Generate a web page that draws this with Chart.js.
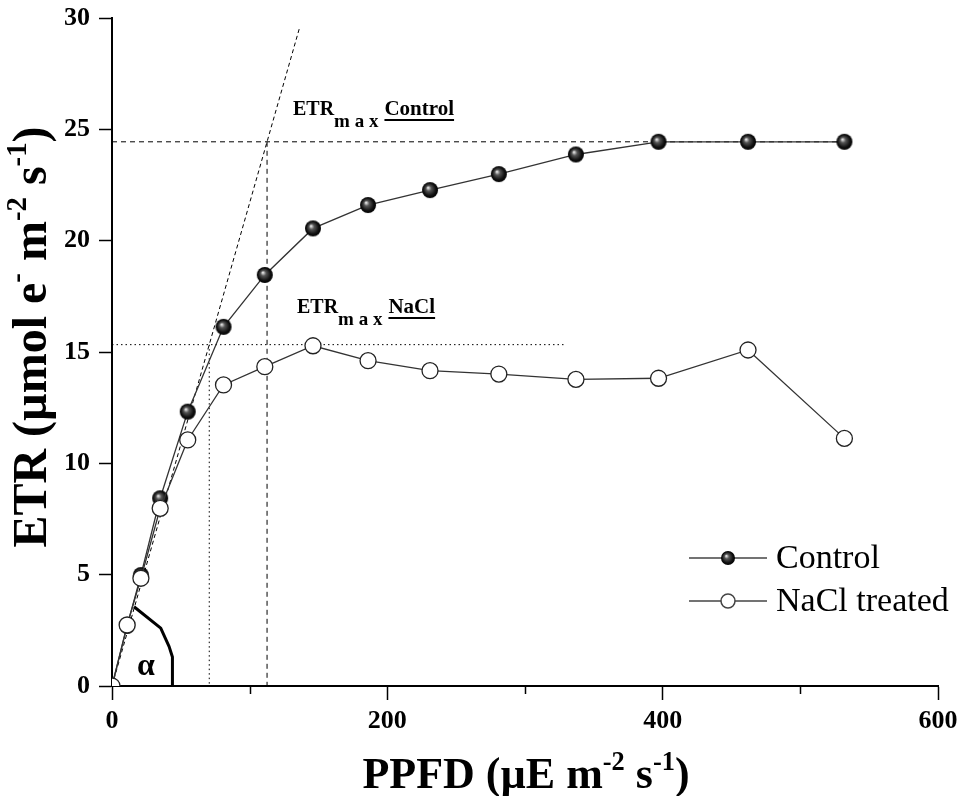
<!DOCTYPE html>
<html>
<head>
<meta charset="utf-8">
<title>ETR light curve</title>
<script src="https://cdn.jsdelivr.net/npm/chart.js@4.4.1/dist/chart.umd.min.js"></script>
<style>
  html, body { margin: 0; padding: 0; background: #fff; }
  #wrap { width: 967px; height: 796px; }
</style>
</head>
<body>
<div id="wrap"><canvas id="etrChart" width="967" height="796"></canvas></div>
<script>
// light steps (PPFD) and electron transport rates
const ppfd = [0, 11, 21, 35, 55, 81, 111, 146, 186, 231, 281, 337, 397, 462, 532];
const etrControl = [0, 2.7, 4.98, 8.43, 12.32, 16.13, 18.46, 20.55, 21.6, 22.27, 22.99, 23.87, 24.44, 24.44, 24.44];
const etrNaCl = [0, 2.74, 4.84, 7.98, 11.05, 13.52, 14.34, 15.28, 14.61, 14.16, 14.01, 13.77, 13.82, 15.09, 11.12];
const seriesNames = ["Control", "NaCl treated"];

const xMajor = [0, 200, 400, 600];
const xMinor = [100, 300, 500];
const yTicks = [0, 5, 10, 15, 20, 25, 30];

// initial slope and the two plateaus
const alphaSlope = 0.217;
const etrMaxControl = 24.44;
const etrMaxNaCl = 15.33;
const slopeTop = 29.6;
const naclLineEnd = 330;
// arc marking the angle alpha (PPFD, ETR)
const alphaArc = [[16, 3.56], [35.4, 2.6], [41.5, 1.77], [43.9, 1.3], [43.9, 0]];

const SERIF = "'Liberation Serif', 'Times New Roman', serif";

function makeBall(r) {
  const c = document.createElement('canvas');
  c.width = c.height = 2 * r + 2;
  const g = c.getContext('2d');
  const cx = r + 1, cy = r + 1;
  const grad = g.createRadialGradient(cx - r * 0.25, cy - r * 0.3, r * 0.05, cx, cy, r);
  grad.addColorStop(0, '#e6e6e6');
  grad.addColorStop(0.3, '#555');
  grad.addColorStop(0.75, '#111');
  grad.addColorStop(1, '#000');
  g.fillStyle = grad;
  g.beginPath();
  g.arc(cx, cy, r, 0, Math.PI * 2);
  g.fill();
  return c;
}
const ball = makeBall(8);
const smallBall = makeBall(7);

// text with superscript pieces, laid out left to right
function richWidth(ctx, parts, size) {
  let w = 0;
  parts.forEach(p => {
    ctx.font = 'bold ' + (p.sup ? size * 0.6 : size) + 'px ' + SERIF;
    w += ctx.measureText(p.t).width;
  });
  return w;
}
function drawRich(ctx, parts, x, y, size) {
  let cx = x - richWidth(ctx, parts, size) / 2;
  parts.forEach(p => {
    ctx.font = 'bold ' + (p.sup ? size * 0.6 : size) + 'px ' + SERIF;
    ctx.fillText(p.t, cx, p.sup ? y - size * 0.42 : y);
    cx += ctx.measureText(p.t).width;
  });
}

function etrMaxLabel(ctx, x, y, word) {
  ctx.font = 'bold 20px ' + SERIF;
  ctx.fillText('ETR', x, y);
  let cx = x + ctx.measureText('ETR').width;
  ctx.font = 'bold 19px ' + SERIF;
  const maxText = 'm a x';
  ctx.fillText(maxText, cx, y + 12);
  cx += ctx.measureText(maxText).width + 6;
  ctx.font = 'bold 21px ' + SERIF;
  ctx.fillText(word, cx, y);
  const w = ctx.measureText(word).width;
  ctx.fillRect(cx, y + 4, w, 2);
}

const annotations = {
  id: 'annotations',
  beforeDatasetsDraw(chart) {
    const ctx = chart.ctx;
    const xs = chart.scales.x, ys = chart.scales.y;
    const px = v => xs.getPixelForValue(v), py = v => ys.getPixelForValue(v);
    ctx.save();
    ctx.strokeStyle = '#000';
    ctx.lineWidth = 1;

    // initial slope
    ctx.setLineDash([4, 3]);
    ctx.beginPath();
    ctx.moveTo(px(0), py(0));
    ctx.lineTo(px(slopeTop / alphaSlope), py(slopeTop));
    ctx.stroke();

    // control plateau
    ctx.setLineDash([5, 4]);
    ctx.beginPath();
    ctx.moveTo(px(0), py(etrMaxControl));
    ctx.lineTo(px(ppfd[ppfd.length - 1]), py(etrMaxControl));
    ctx.moveTo(px(etrMaxControl / alphaSlope), py(etrMaxControl));
    ctx.lineTo(px(etrMaxControl / alphaSlope), py(0));
    ctx.stroke();

    // NaCl plateau
    ctx.setLineDash([1.5, 3]);
    ctx.beginPath();
    ctx.moveTo(px(0), py(etrMaxNaCl));
    ctx.lineTo(px(naclLineEnd), py(etrMaxNaCl));
    ctx.moveTo(px(etrMaxNaCl / alphaSlope), py(etrMaxNaCl));
    ctx.lineTo(px(etrMaxNaCl / alphaSlope), py(0));
    ctx.stroke();

    // alpha arc
    ctx.setLineDash([]);
    ctx.lineWidth = 3;
    ctx.lineJoin = 'round';
    ctx.beginPath();
    alphaArc.forEach((p, i) => i ? ctx.lineTo(px(p[0]), py(p[1])) : ctx.moveTo(px(p[0]), py(p[1])));
    ctx.stroke();
    ctx.restore();
  },
  afterDraw(chart) {
    const ctx = chart.ctx;
    const xs = chart.scales.x;
    const area = chart.chartArea;
    ctx.save();
    ctx.fillStyle = '#000';
    ctx.strokeStyle = '#000';

    // minor ticks on the x axis
    ctx.lineWidth = 1.5;
    xMinor.forEach(v => {
      const x = Math.round(xs.getPixelForValue(v)) + 0.5;
      ctx.beginPath();
      ctx.moveTo(x, area.bottom);
      ctx.lineTo(x, area.bottom + 8);
      ctx.stroke();
    });

    // alpha symbol
    ctx.textBaseline = 'alphabetic';
    ctx.textAlign = 'left';
    ctx.font = 'bold 32px ' + SERIF;
    ctx.fillText('\u03b1', 137, 675);

    etrMaxLabel(ctx, 293, 115, 'Control');
    etrMaxLabel(ctx, 297, 313, 'NaCl');

    // legend
    const rows = [
      { y: 558, img: smallBall, open: false },
      { y: 601, img: null, open: true }
    ];
    rows.forEach((r, i) => {
      ctx.strokeStyle = '#444';
      ctx.lineWidth = 1.5;
      ctx.beginPath();
      ctx.moveTo(689, r.y);
      ctx.lineTo(767, r.y);
      ctx.stroke();
      if (r.open) {
        ctx.fillStyle = '#fff';
        ctx.beginPath();
        ctx.arc(728, r.y, 7, 0, Math.PI * 2);
        ctx.fill();
        ctx.stroke();
      } else {
        ctx.drawImage(r.img, 728 - 8, r.y - 8);
      }
      ctx.fillStyle = '#000';
      ctx.font = '34px ' + SERIF;
      ctx.textBaseline = 'middle';
      ctx.fillText(seriesNames[i], 776, r.y + 1);
    });
    ctx.textBaseline = 'alphabetic';

    // axis titles
    drawRich(ctx, [
      { t: 'PPFD (\u00b5E m' }, { t: '-2', sup: true }, { t: ' s' }, { t: '-1', sup: true }, { t: ')' }
    ], 526, 788, 44);

    ctx.translate(46, 337);
    ctx.rotate(-Math.PI / 2);
    drawRich(ctx, [
      { t: 'ETR (\u00b5mol e' }, { t: '-', sup: true }, { t: ' m' }, { t: '-2', sup: true },
      { t: ' s' }, { t: '-1', sup: true }, { t: ')' }
    ], 0, 0, 48);
    ctx.restore();
  }
};

const tickFont = { family: SERIF, size: 26, weight: 'bold' };

new Chart(document.getElementById('etrChart'), {
  type: 'line',
  data: {
    datasets: [
      {
        label: seriesNames[0],
        data: ppfd.map((x, i) => ({ x, y: etrControl[i] })),
        borderColor: '#333',
        borderWidth: 1.3,
        pointStyle: ball,
        pointRadius: 8,
        order: 1
      },
      {
        label: seriesNames[1],
        data: ppfd.map((x, i) => ({ x, y: etrNaCl[i] })),
        borderColor: '#333',
        borderWidth: 1.3,
        pointStyle: 'circle',
        pointRadius: 8,
        pointBackgroundColor: '#fff',
        pointBorderColor: '#222',
        pointBorderWidth: 1.3,
        order: 0
      }
    ]
  },
  options: {
    responsive: false,
    animation: false,
    events: [],
    layout: { padding: { top: 18, right: 29, left: 0, bottom: 0 } },
    plugins: { legend: { display: false }, tooltip: { enabled: false } },
    scales: {
      x: {
        type: 'linear',
        min: 0,
        max: 600,
        afterBuildTicks: s => { s.ticks = xMajor.map(v => ({ value: v })); },
        afterFit: s => { s.height = 110; s.paddingLeft = 0; s.paddingRight = 0; },
        ticks: { font: tickFont, color: '#000', padding: 6, maxRotation: 0, autoSkip: false },
        grid: { drawOnChartArea: false, drawTicks: true, tickLength: 14, tickColor: '#000', tickWidth: 1.5 },
        border: { color: '#000', width: 2 }
      },
      y: {
        type: 'linear',
        min: 0,
        max: 30,
        afterBuildTicks: s => { s.ticks = yTicks.map(v => ({ value: v })); },
        afterFit: s => { s.width = 112; s.paddingTop = 0; s.paddingBottom = 0; },
        ticks: { font: tickFont, color: '#000', padding: 9 },
        grid: { drawOnChartArea: false, drawTicks: true, tickLength: 13, tickColor: '#000', tickWidth: 1.5 },
        border: { color: '#000', width: 2 }
      }
    }
  },
  plugins: [annotations]
});
</script>
</body>
</html>
